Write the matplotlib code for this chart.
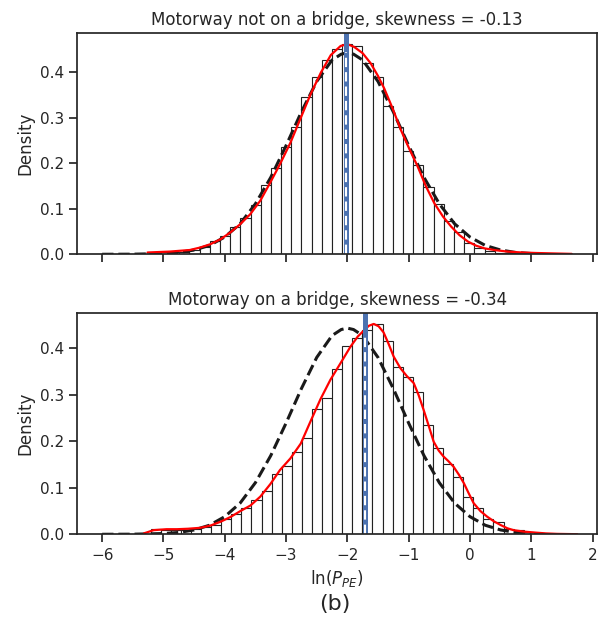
import numpy as np
import seaborn as sns
from matplotlib import pyplot as plt

sns.set_theme(style="ticks")

# histogram heights (density), 40 equal bins between data min and max
top_lo, top_hi = -5.24, 1.40
top_heights = [0.004, 0.005, 0.005, 0.006, 0.010, 0.015, 0.030, 0.040, 0.061, 0.080,
               0.108, 0.152, 0.190, 0.235, 0.279, 0.345, 0.390, 0.427, 0.451, 0.462,
               0.458, 0.420, 0.389, 0.326, 0.279, 0.228, 0.196, 0.149, 0.111, 0.074,
               0.048, 0.024, 0.013, 0.008, 0.004, 0.003, 0.002, 0.001, 0.001, 0.0005]

bot_lo, bot_hi = -5.21, 1.37
bot_heights = [0.011, 0.009, 0.009, 0.009, 0.011, 0.015, 0.021, 0.032, 0.044, 0.056,
               0.074, 0.093, 0.130, 0.147, 0.176, 0.208, 0.269, 0.292, 0.355, 0.405,
               0.421, 0.440, 0.452, 0.416, 0.360, 0.338, 0.305, 0.234, 0.185, 0.151,
               0.123, 0.081, 0.056, 0.034, 0.027, 0.011, 0.009, 0.004, 0.002, 0.001]

# kde curves
top_kde_x = [-5.26, -4.9, -4.57, -4.4, -4.24, -4.07, -3.91, -3.75, -3.585, -3.42,
             -3.257, -3.1, -2.93, -2.76, -2.60, -2.43, -2.27, -2.11, -2.0, -1.89,
             -1.75, -1.62, -1.50, -1.40, -1.26, -1.126, -0.99, -0.853, -0.72, -0.58,
             -0.44, -0.307, -0.17, -0.033, 0.10, 0.24, 0.42, 0.62, 0.85, 1.06, 1.35, 1.66]
top_kde_y = [0.004, 0.006, 0.0095, 0.015, 0.022, 0.033, 0.048, 0.066, 0.088, 0.118,
             0.158, 0.198, 0.245, 0.300, 0.352, 0.400, 0.438, 0.458, 0.462, 0.456,
             0.442, 0.420, 0.392, 0.365, 0.320, 0.273, 0.232, 0.193, 0.150, 0.112,
             0.083, 0.061, 0.042, 0.028, 0.019, 0.013, 0.009, 0.006, 0.004, 0.003, 0.002, 0.001]

bot_kde_x = [-5.32, -5.16, -4.95, -4.78, -4.6, -4.40, -4.23, -4.07, -3.91, -3.745,
             -3.58, -3.42, -3.256, -3.1, -2.93, -2.76, -2.60, -2.44, -2.277, -2.11,
             -1.95, -1.83, -1.73, -1.65, -1.57, -1.49, -1.41, -1.33, -1.245, -1.135,
             -1.03, -0.918, -0.84, -0.755, -0.67, -0.592, -0.51, -0.43, -0.35, -0.266,
             -0.18, -0.10, -0.02, 0.06, 0.17, 0.28, 0.39, 0.50, 0.61, 0.71,
             0.87, 1.04, 1.24, 1.42, 1.75]
bot_kde_y = [0.002, 0.009, 0.011, 0.011, 0.012, 0.014, 0.019, 0.027, 0.037, 0.050,
             0.062, 0.081, 0.108, 0.138, 0.163, 0.195, 0.243, 0.290, 0.332, 0.368,
             0.403, 0.425, 0.438, 0.448, 0.452, 0.447, 0.434, 0.410, 0.382, 0.357,
             0.340, 0.325, 0.300, 0.267, 0.232, 0.199, 0.180, 0.167, 0.157, 0.145,
             0.128, 0.110, 0.088, 0.067, 0.050, 0.038, 0.028, 0.020, 0.013, 0.009,
             0.006, 0.004, 0.002, 0.001, 0.0003]

# reference normal (dashed), same in both panels
norm_x = [-6.0, -5.5, -5.0, -4.75, -4.5, -4.25, -4.0, -3.75, -3.5, -3.25, -3.0,
          -2.75, -2.5, -2.25, -2.1, -2.0, -1.9, -1.75, -1.5, -1.25, -1.0, -0.75,
          -0.5, -0.25, 0.0, 0.25, 0.5, 0.75, 1.0]
norm_y = [0.0001, 0.0003, 0.0017, 0.004, 0.0094, 0.0195, 0.038, 0.067, 0.111, 0.169, 0.239,
          0.313, 0.380, 0.427, 0.440, 0.443, 0.440, 0.427, 0.380, 0.313, 0.239, 0.169,
          0.111, 0.067, 0.038, 0.0195, 0.0094, 0.004, 0.0017]

medians = [-2.02, -1.72]
white_tops = [0.445, 0.427]
titles = ["Motorway not on a bridge, skewness = -0.13",
          "Motorway on a bridge, skewness = -0.34"]
ylims = [0.486, 0.475]

fig = plt.figure(figsize=(6.07, 6.39), dpi=100)
ax1 = fig.add_axes([0.1269, 0.602, 0.8574, 0.346])
ax2 = fig.add_axes([0.1269, 0.1638, 0.8574, 0.346])

panels = [(ax1, top_lo, top_hi, top_heights, top_kde_x, top_kde_y),
          (ax2, bot_lo, bot_hi, bot_heights, bot_kde_x, bot_kde_y)]

for i, (ax, lo, hi, h, kx, ky) in enumerate(panels):
    edges = np.linspace(lo, hi, len(h) + 1)
    ax.bar(edges[:-1], h, width=np.diff(edges), align='edge', color='white',
           edgecolor='#222222', linewidth=0.8)
    ax.plot(norm_x, norm_y, ls='--', lw=2.2, c='#1a1a1a')
    ax.plot(kx, ky, lw=1.6, c='red')
    # median: thick blue line with white dashes on top
    ax.axvline(medians[i], color='#4c72b0', lw=3.6)
    ax.plot([medians[i], medians[i]], [0, white_tops[i]], color='white', lw=1.5,
            dashes=(4.5, 2.4))
    ax.set_xlim(-6.41, 2.08)
    ax.set_ylim(0, ylims[i])
    ax.set_xticks(range(-6, 3))
    ax.set_yticks([0.0, 0.1, 0.2, 0.3, 0.4])
    ax.set_ylabel("Density")
    ax.set_title(titles[i])

ax1.set_xticklabels([])
ax2.set_xlabel(r"ln($P_{PE}$)")

fig.text(0.552, 0.055, "(b)", ha='center', va='center', fontsize=16)

plt.savefig("out.png", dpi=100)
